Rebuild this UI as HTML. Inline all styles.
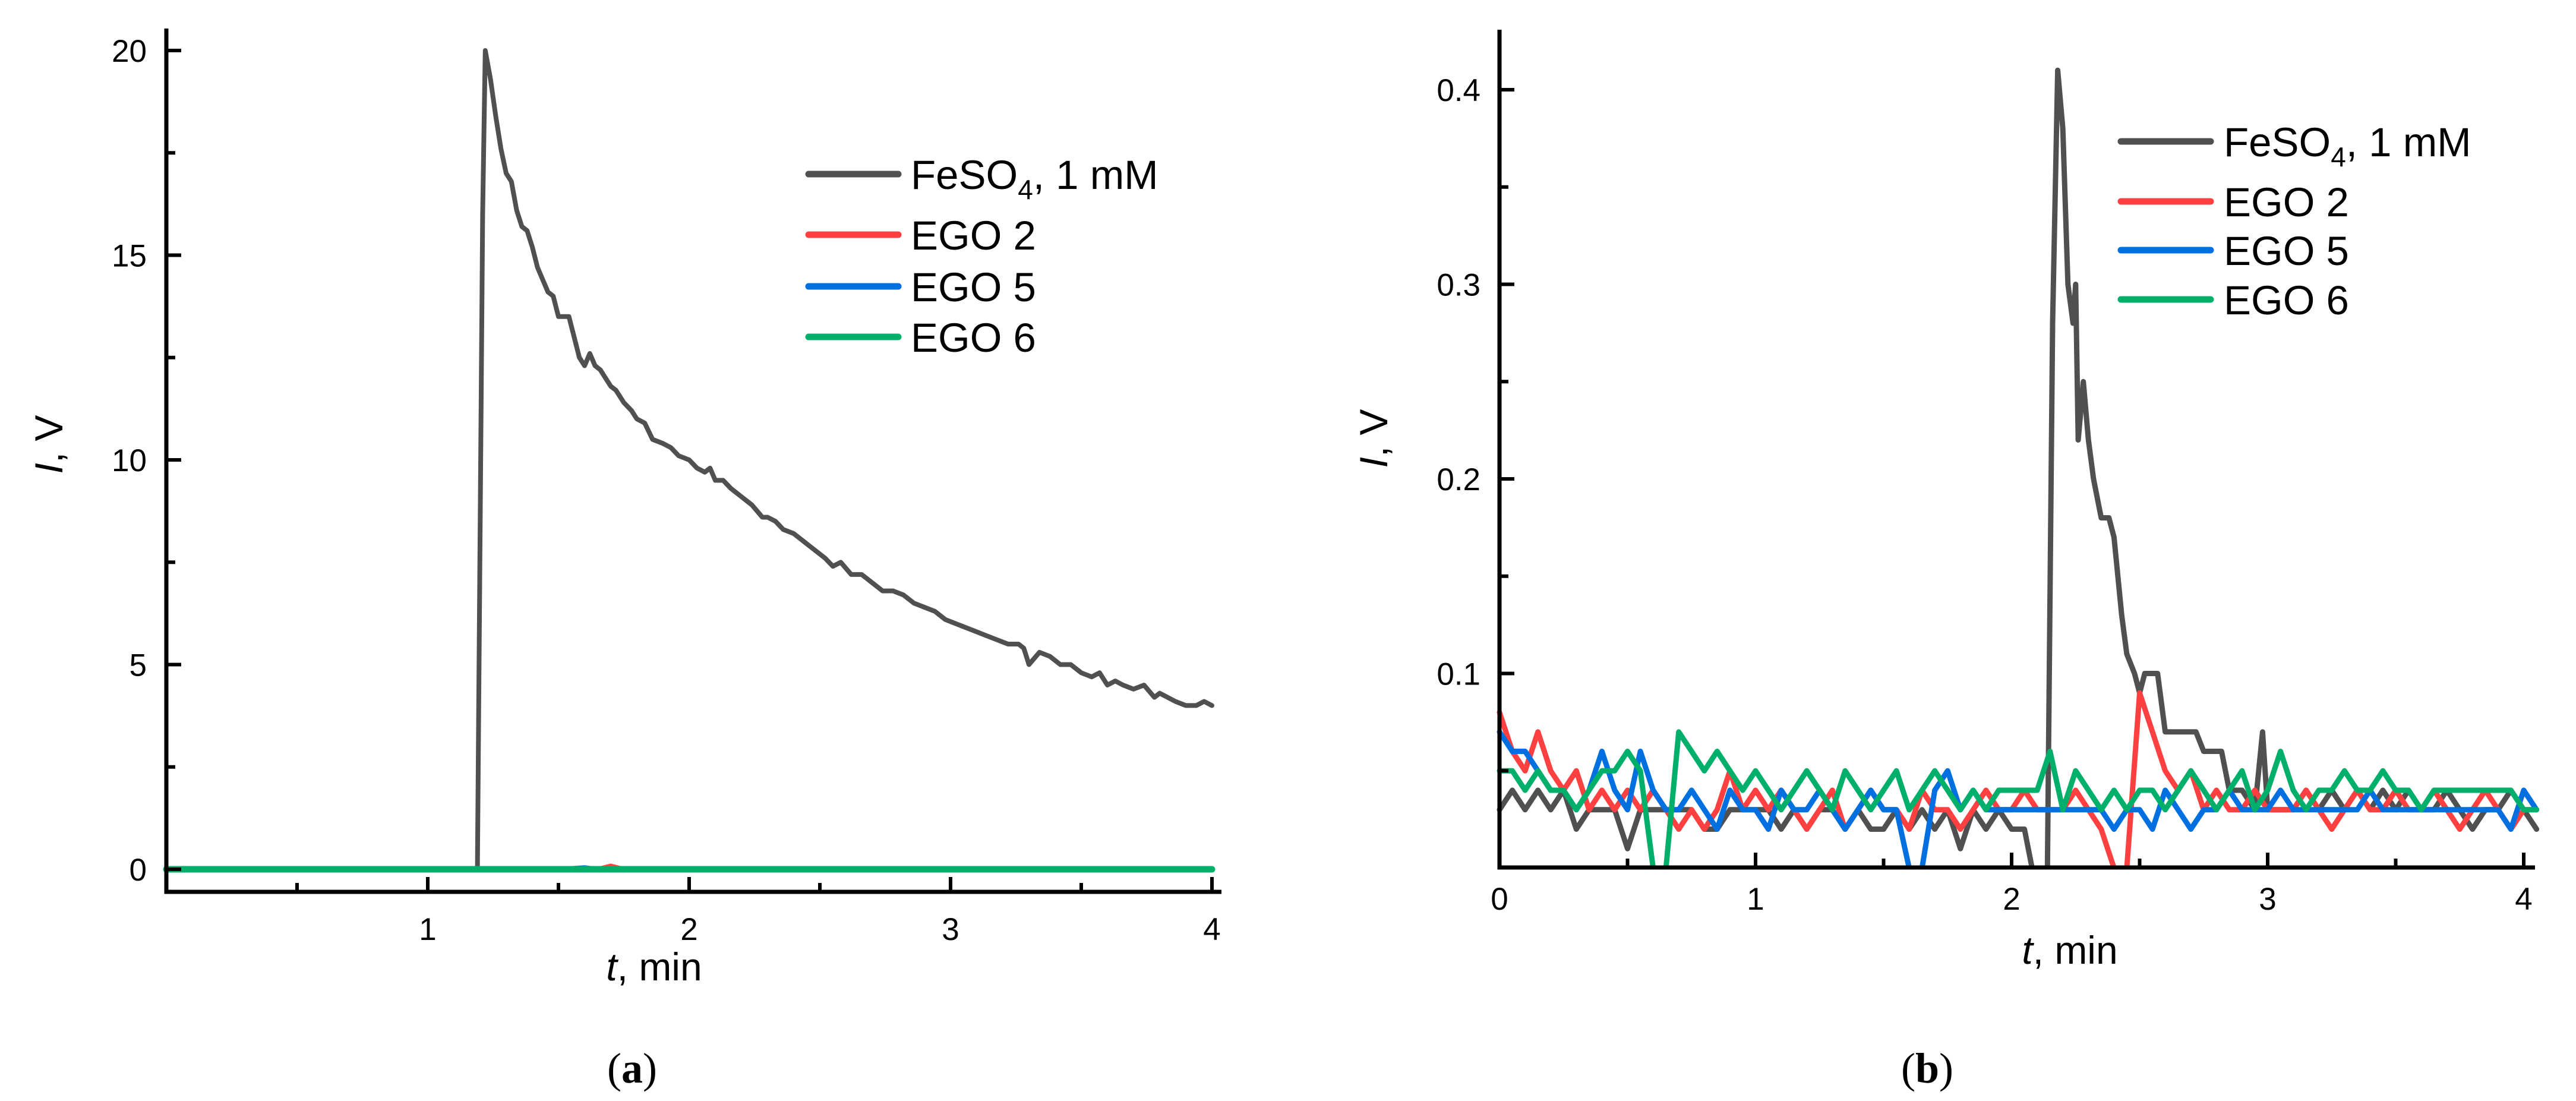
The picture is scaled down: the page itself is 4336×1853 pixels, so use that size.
<!DOCTYPE html>
<html><head><meta charset="utf-8"><style>
html,body{margin:0;padding:0;background:#fff;}
svg{display:block;}
text{font-family:"Liberation Sans",Arial,sans-serif;fill:#000;}
</style></head><body>
<svg id="fig" width="4336" height="1853" viewBox="0 0 4336 1853" xmlns="http://www.w3.org/2000/svg">
<rect width="4336" height="1853" fill="#fff"/>
<g id="pa"></g>
<g id="pb"></g>
</svg>
<script>
// ---------- Panel (a) data ----------
const aTicksX = [1, 2, 3, 4];
const aTicksY = [0, 5, 10, 15, 20];
const aFeT = [0,0.5,1.0,1.17,1.19,1.21,1.22,1.24,1.26,1.28,1.30,1.32,1.34,1.36,1.38,1.40,1.42,1.44,1.46,1.48,1.50,1.52,1.54,1.56,1.58,1.60,1.62,1.64,1.66,1.68,1.70,1.72,1.75,1.78,1.80,1.83,1.86,1.90,1.93,1.96,2.00,2.03,2.06,2.08,2.10,2.13,2.16,2.20,2.24,2.28,2.30,2.33,2.36,2.40,2.44,2.48,2.52,2.55,2.58,2.62,2.66,2.70,2.74,2.78,2.82,2.86,2.90,2.94,2.98,3.02,3.06,3.10,3.14,3.18,3.22,3.26,3.28,3.30,3.34,3.38,3.42,3.46,3.50,3.54,3.57,3.60,3.63,3.66,3.70,3.74,3.78,3.80,3.83,3.86,3.90,3.94,3.97,4.00];
const aFeV = [0,0,0,0,0,16,20,19.3,18.4,17.6,17.0,16.8,16.1,15.7,15.6,15.2,14.7,14.4,14.1,14.0,13.5,13.5,13.5,13.0,12.5,12.3,12.6,12.3,12.2,12.0,11.8,11.7,11.4,11.2,11.0,10.9,10.5,10.4,10.3,10.1,10.0,9.8,9.7,9.8,9.5,9.5,9.3,9.1,8.9,8.6,8.6,8.5,8.3,8.2,8.0,7.8,7.6,7.4,7.5,7.2,7.2,7.0,6.8,6.8,6.7,6.5,6.4,6.3,6.1,6.0,5.9,5.8,5.7,5.6,5.5,5.5,5.4,5.0,5.3,5.2,5.0,5.0,4.8,4.7,4.8,4.5,4.6,4.5,4.4,4.5,4.2,4.3,4.2,4.1,4.0,4.0,4.1,4.0];
const aEgoT = [0,0.5,1.0,1.5,1.6,1.65,1.7,1.75,2.0,2.5,3.0,3.5,4.0];
const aEgo2V = [0,0,0,0,0,0,0.08,0,0,0,0,0,0];
const aEgo5V = [0,0,0,0,0.04,0,0,0,0,0,0,0,0];
const aEgo6V = [0,0,0,0,0,0,0,0,0,0,0,0,0];

// ---------- Panel (b) data ----------
const bTicksX = [0, 1, 2, 3, 4];
const bTicksY = [0.1, 0.2, 0.3, 0.4];
const bStep = 0.05; // sampling interval (min) of EGO series
const bEgo2V = [0.08,0.06,0.05,0.07,0.05,0.04,0.05,0.03,0.04,0.03,0.04,0.03,0.04,0.03,0.02,0.03,0.02,0.03,0.05,0.03,0.04,0.03,0.04,0.03,0.02,0.03,0.04,0.02,0.03,0.04,0.03,0.03,0.02,0.04,0.03,0.03,0.02,0.03,0.04,0.03,0.03,0.04,0.03,0.03,0.03,0.04,0.03,0.02,0,0,0.09,0.07,0.05,0.04,0.05,0.03,0.04,0.03,0.03,0.04,0.03,0.03,0.03,0.04,0.03,0.02,0.03,0.04,0.03,0.03,0.04,0.03,0.03,0.04,0.03,0.02,0.03,0.04,0.03,0.02,0.03,0.03];
const bEgo5V = [0.07,0.06,0.06,0.05,0.04,0.04,0.03,0.04,0.06,0.04,0.03,0.06,0.04,0.03,0.03,0.04,0.03,0.02,0.04,0.03,0.03,0.02,0.04,0.03,0.03,0.04,0.03,0.02,0.03,0.04,0.03,0.03,0,0,0.04,0.05,0.03,0.04,0.03,0.03,0.03,0.03,0.03,0.03,0.03,0.03,0.03,0.03,0.02,0.03,0.03,0.02,0.04,0.03,0.02,0.03,0.03,0.04,0.03,0.03,0.03,0.04,0.03,0.03,0.03,0.03,0.03,0.03,0.04,0.03,0.03,0.03,0.03,0.03,0.03,0.03,0.03,0.03,0.03,0.02,0.04,0.03];
const bEgo6V = [0.05,0.05,0.04,0.05,0.04,0.04,0.03,0.04,0.05,0.05,0.06,0.05,0,0,0.07,0.06,0.05,0.06,0.05,0.04,0.05,0.04,0.03,0.04,0.05,0.04,0.03,0.05,0.04,0.03,0.04,0.05,0.03,0.04,0.05,0.04,0.03,0.04,0.03,0.04,0.04,0.04,0.04,0.06,0.03,0.05,0.04,0.03,0.04,0.03,0.04,0.04,0.03,0.04,0.05,0.04,0.03,0.04,0.05,0.03,0.04,0.06,0.04,0.03,0.04,0.04,0.05,0.04,0.04,0.05,0.04,0.04,0.03,0.04,0.04,0.04,0.04,0.04,0.04,0.04,0.03,0.03];
const bFeT = [0,0.05,0.1,0.15,0.2,0.25,0.3,0.35,0.4,0.45,0.5,0.55,0.6,0.65,0.7,0.75,0.8,0.85,0.9,0.95,1.0,1.05,1.1,1.15,1.2,1.25,1.3,1.35,1.4,1.45,1.5,1.55,1.6,1.65,1.7,1.75,1.8,1.85,1.9,1.95,2.0,2.05,2.08,2.14,2.16,2.18,2.2,2.22,2.24,2.25,2.26,2.28,2.30,2.32,2.35,2.38,2.40,2.43,2.45,2.48,2.50,2.52,2.57,2.60,2.72,2.75,2.82,2.85,2.90,2.95,2.98,3.0,3.05,3.1,3.15,3.2,3.25,3.3,3.35,3.4,3.45,3.5,3.55,3.6,3.65,3.7,3.75,3.8,3.85,3.9,3.95,4.0,4.05];
const bFeV = [0.03,0.04,0.03,0.04,0.03,0.04,0.02,0.03,0.03,0.03,0.01,0.03,0.03,0.03,0.03,0.03,0.02,0.02,0.03,0.03,0.03,0.03,0.02,0.03,0.02,0.03,0.03,0.02,0.03,0.02,0.02,0.03,0.02,0.03,0.02,0.03,0.01,0.03,0.02,0.03,0.02,0.02,0,0,0.28,0.41,0.38,0.30,0.28,0.30,0.22,0.25,0.22,0.20,0.18,0.18,0.17,0.13,0.11,0.10,0.09,0.10,0.10,0.07,0.07,0.06,0.06,0.04,0.04,0.03,0.07,0.03,0.03,0.03,0.04,0.03,0.04,0.03,0.04,0.03,0.04,0.03,0.04,0.03,0.03,0.04,0.03,0.02,0.03,0.03,0.04,0.03,0.02];

const NS = "http://www.w3.org/2000/svg";
function mk(parent, tag, attrs, text){
  const e = document.createElementNS(NS, tag);
  for (const k in attrs) e.setAttribute(k, attrs[k]);
  if (text !== undefined) e.textContent = text;
  parent.appendChild(e);
  return e;
}
const COL = {fe:"#505050", e2:"#ff4040", e5:"#0070e0", e6:"#00b06a"};

// ---------- Panel (a) ----------
(function(){
  const g = document.getElementById('pa');
  const X0=280, X1=2056, Y0=1501, YT=48;
  const xs = t => 280 + t*440;
  const ys = v => 1463 - v*68.9;
  function line(ts, vs, col, w, name){
    let d = "";
    for (let i=0;i<vs.length;i++) d += (i?"L":"M")+xs(ts[i]).toFixed(1)+","+ys(vs[i]).toFixed(1);
    const p = mk(g,'path',{d:d,fill:'none',stroke:col,'stroke-width':w,'stroke-linejoin':'round','stroke-linecap':'round'});
    
    
  }
  line(aFeT, aFeV, COL.fe, 8, 'series-a-feso4');
  line(aEgoT, aEgo2V, COL.e2, 8, 'series-a-ego2');
  line(aEgoT, aEgo5V, COL.e5, 8, 'series-a-ego5');
  line(aEgoT, aEgo6V, COL.e6, 11, 'series-a-ego6');
  const ax = mk(g,'path',{d:`M${X0},${YT}L${X0},${Y0}L${X1},${Y0}`,fill:'none',stroke:'#000','stroke-width':7});
  
  
  for (let v=0; v<=20; v+=2.5){
    const major = v%5===0;
    mk(g,'line',{x1:X0,x2:X0+(major?25:15),y1:ys(v),y2:ys(v),stroke:'#000','stroke-width':6});
  }
  for (let t=0.5; t<=4; t+=0.5){
    const major = t%1===0;
    mk(g,'line',{x1:xs(t),x2:xs(t),y1:Y0,y2:Y0-(major?25:15),stroke:'#000','stroke-width':6});
  }
  aTicksY.forEach(v=>{
    const e = mk(g,'text',{x:247,y:ys(v)+19,'text-anchor':'end','font-size':53},String(v));
    
    
  });
  aTicksX.forEach(t=>{
    const e = mk(g,'text',{x:xs(t),y:1582,'text-anchor':'middle','font-size':53},String(t));
    
    
  });
  const xt = mk(g,'text',{x:1101,y:1650,'text-anchor':'middle','font-size':66});
  
  
  mk(xt,'tspan',{'font-style':'italic'},'t');
  mk(xt,'tspan',{},', min');
  const yt = mk(g,'text',{x:0,y:0,'text-anchor':'middle','font-size':66,transform:'translate(105,748) rotate(-90)'});
  
  
  mk(yt,'tspan',{'font-style':'italic'},'I');
  mk(yt,'tspan',{},', V');
  const lg = [[COL.fe,'FeSO',293],[COL.e2,'EGO 2',395],[COL.e5,'EGO 5',482],[COL.e6,'EGO 6',567]];
  lg.forEach((L,i)=>{
    const gl = mk(g,'g',{});
    
    
    mk(gl,'line',{x1:1361,x2:1512,y1:L[2],y2:L[2],stroke:L[0],'stroke-width':11,'stroke-linecap':'round'});
    const t = mk(gl,'text',{x:1533,y:L[2]+25,'font-size':69});
    if (i===0){ t.textContent='FeSO'; mk(t,'tspan',{'font-size':46,dy:17},'4'); mk(t,'tspan',{dy:-17},', 1 mM'); }
    else t.textContent=L[1];
  });
  const cap = mk(g,'text',{x:1064,y:1822,'text-anchor':'middle','font-size':72,style:'font-family:"Liberation Serif",serif'});
  
  
  mk(cap,'tspan',{},'(');
  mk(cap,'tspan',{'font-weight':'bold'},'a');
  mk(cap,'tspan',{},')');
})();

// ---------- Panel (b) ----------
(function(){
  const g = document.getElementById('pb');
  const X0=2524, X1=4267, Y0=1460, YT=50;
  const xs = t => 2524 + t*431;
  const ys = v => 1461 - v*3275;
  function line(ts, vs, col, w, name){
    let d = "";
    for (let i=0;i<vs.length;i++) d += (i?"L":"M")+xs(ts?ts[i]:i*bStep).toFixed(1)+","+ys(vs[i]).toFixed(1);
    const p = mk(g,'path',{d:d,fill:'none',stroke:col,'stroke-width':w,'stroke-linejoin':'round','stroke-linecap':'round'});
    
    
  }
  line(bFeT, bFeV, COL.fe, 9, 'series-b-feso4');
  line(null, bEgo2V, COL.e2, 9, 'series-b-ego2');
  line(null, bEgo5V, COL.e5, 9, 'series-b-ego5');
  line(null, bEgo6V, COL.e6, 9, 'series-b-ego6');
  mk(g,'rect',{x:2400,y:Y0+3,width:1936,height:60,fill:'#fff'});
  const ax = mk(g,'path',{d:`M${X0},${YT}L${X0},${Y0}L${X1},${Y0}`,fill:'none',stroke:'#000','stroke-width':7});
  
  
  for (let k=1; k<=8; k++){
    const v = k*0.05, major = k%2===0;
    mk(g,'line',{x1:X0,x2:X0+(major?25:15),y1:ys(v),y2:ys(v),stroke:'#000','stroke-width':6});
  }
  for (let k=1; k<=8; k++){
    const t = k*0.5, major = k%2===0;
    mk(g,'line',{x1:xs(t),x2:xs(t),y1:Y0,y2:Y0-(major?25:15),stroke:'#000','stroke-width':6});
  }
  bTicksY.forEach(v=>{
    const e = mk(g,'text',{x:2492,y:ys(v)+19,'text-anchor':'end','font-size':53},v.toFixed(1));
    
    
  });
  bTicksX.forEach(t=>{
    const e = mk(g,'text',{x:xs(t),y:1531,'text-anchor':'middle','font-size':53},String(t));
    
    
  });
  const xt = mk(g,'text',{x:3484,y:1622,'text-anchor':'middle','font-size':66});
  
  
  mk(xt,'tspan',{'font-style':'italic'},'t');
  mk(xt,'tspan',{},', min');
  const yt = mk(g,'text',{x:0,y:0,'text-anchor':'middle','font-size':66,transform:'translate(2335,738) rotate(-90)'});
  
  
  mk(yt,'tspan',{'font-style':'italic'},'I');
  mk(yt,'tspan',{},', V');
  const lg = [[COL.fe,'FeSO',238],[COL.e2,'EGO 2',339],[COL.e5,'EGO 5',421],[COL.e6,'EGO 6',504]];
  lg.forEach((L,i)=>{
    const gl = mk(g,'g',{});
    
    
    mk(gl,'line',{x1:3570,x2:3721,y1:L[2],y2:L[2],stroke:L[0],'stroke-width':11,'stroke-linecap':'round'});
    const t = mk(gl,'text',{x:3743,y:L[2]+25,'font-size':69});
    if (i===0){ t.textContent='FeSO'; mk(t,'tspan',{'font-size':46,dy:17},'4'); mk(t,'tspan',{dy:-17},', 1 mM'); }
    else t.textContent=L[1];
  });
  const cap = mk(g,'text',{x:3244,y:1822,'text-anchor':'middle','font-size':72,style:'font-family:"Liberation Serif",serif'});
  
  
  mk(cap,'tspan',{},'(');
  mk(cap,'tspan',{'font-weight':'bold'},'b');
  mk(cap,'tspan',{},')');
})();
</script>
</body></html>
